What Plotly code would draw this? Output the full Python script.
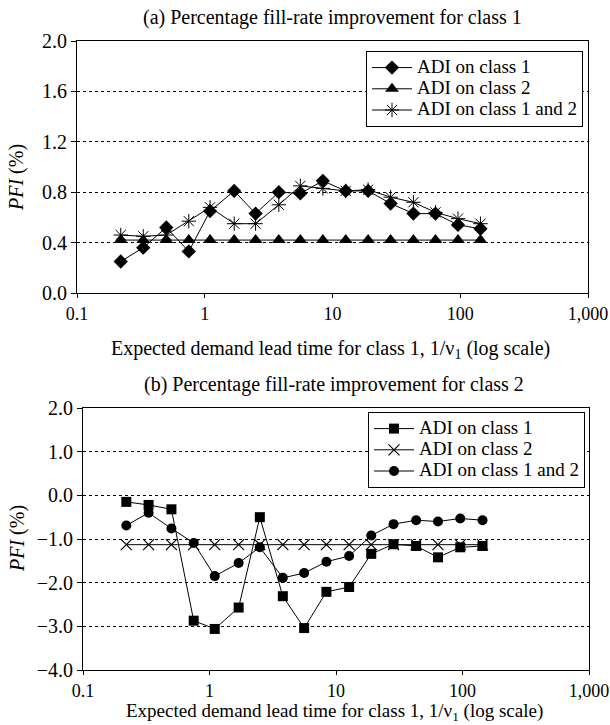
import plotly.graph_objects as go

# Data
lead_time = [0.22, 0.33, 0.5, 0.75, 1.1, 1.7, 2.5, 3.8, 5.6, 8.4, 12.7, 19, 28.5, 43, 64, 96, 144]

a_class1 = [0.25, 0.36, 0.52, 0.33, 0.65, 0.81, 0.63, 0.80, 0.79, 0.89, 0.81, 0.81, 0.71, 0.63, 0.63, 0.54, 0.51]
a_class2 = [0.42] * 17
a_class12 = [0.46, 0.45, 0.46, 0.57, 0.68, 0.55, 0.55, 0.70, 0.85, 0.83, 0.81, 0.82, 0.76, 0.72, 0.64, 0.59, 0.55]

b_class1 = [-0.15, -0.22, -0.32, -2.87, -3.06, -2.57, -0.50, -2.31, -3.04, -2.21, -2.10, -1.34, -1.12, -1.16, -1.42, -1.19, -1.16]
b_class2 = [-1.13] * 17
b_class12 = [-0.69, -0.40, -0.76, -1.09, -1.85, -1.55, -1.19, -1.89, -1.78, -1.52, -1.39, -0.92, -0.66, -0.57, -0.60, -0.53, -0.57]

names = ["ADI on class 1", "ADI on class 2", "ADI on class 1 and 2"]
x_tickvals = [0.1, 1, 10, 100, 1000]
x_ticktext = ["0.1", "1", "10", "100", "1,000"]
top_yticks = [0.0, 0.4, 0.8, 1.2, 1.6, 2.0]
bot_yticks = [-4.0, -3.0, -2.0, -1.0, 0.0, 1.0, 2.0]

FONT = "Liberation Serif"
W, H = 610, 725

def px(x):
    return x / W

def py(y):
    return 1 - y / H

def legname(s):
    return '<span style="font-size:19px">' + s + '</span>'

fig = go.Figure()

top_specs = [
    (a_class1, dict(symbol="diamond", size=11, color="black")),
    (a_class2, dict(symbol="triangle-up", size=12, color="black")),
    (a_class12, dict(symbol="asterisk-open", size=12, color="black", line=dict(width=1, color="black"))),
]
for (vals, mk), nm in zip(top_specs, names):
    fig.add_trace(go.Scatter(x=lead_time, y=vals, name=legname(nm), mode="lines+markers",
                             line=dict(color="black", width=1), marker=mk,
                             xaxis="x", yaxis="y", legend="legend"))

bot_specs = [
    (b_class1, dict(symbol="square", size=10, color="black")),
    (b_class2, dict(symbol="x-thin-open", size=11, color="black", line=dict(width=1.2, color="black"))),
    (b_class12, dict(symbol="circle", size=10, color="black")),
]
for (vals, mk), nm in zip(bot_specs, names):
    fig.add_trace(go.Scatter(x=lead_time, y=vals, name=legname(nm), mode="lines+markers",
                             line=dict(color="black", width=1), marker=mk,
                             xaxis="x2", yaxis="y2", legend="legend2"))

xcommon = dict(type="log", range=[-1, 3], tickvals=x_tickvals, ticktext=x_ticktext,
               showgrid=False, showline=True, linecolor="black", linewidth=1, mirror=True,
               ticks="outside", ticklen=4, tickcolor="black", zeroline=False, automargin=False,
               ticklabeloverflow="allow",
               tickfont=dict(family=FONT, size=18, color="black"))
ycommon = dict(showline=True, linecolor="black", linewidth=1, mirror=True,
               ticks="outside", ticklen=5, tickcolor="black", zeroline=False, automargin=False,
               showgrid=True, gridcolor="black", gridwidth=1, griddash="dot",
               tickformat=".1f", ticklabeloverflow="allow",
               tickfont=dict(family=FONT, size=20, color="black"))

legcommon = dict(bordercolor="black", borderwidth=1, bgcolor="white",
                 font=dict(family=FONT, size=14, color="black"),
                 xanchor="left", yanchor="top", itemwidth=40, tracegroupgap=0)

fig.update_layout(
    width=W, height=H,
    margin=dict(l=0, r=0, t=0, b=0, autoexpand=False),
    paper_bgcolor="white", plot_bgcolor="white",
    font=dict(family=FONT, size=20, color="black"),
    xaxis=dict(xcommon, domain=[px(77), px(588)], anchor="y"),
    yaxis=dict(ycommon, domain=[py(293), py(41)], range=[0, 2.0], tickvals=top_yticks, anchor="x"),
    xaxis2=dict(xcommon, domain=[px(83), px(589)], anchor="y2"),
    yaxis2=dict(ycommon, domain=[py(670), py(408)], range=[-4.0, 2.0], tickvals=bot_yticks, anchor="x2"),
    legend=dict(legcommon, x=px(366), y=py(51)),
    legend2=dict(legcommon, x=px(368), y=py(412)),
    showlegend=True,
)

annots = [
    dict(text="(a) Percentage fill-rate improvement for class 1", x=px(332), y=py(17), size=20),
    dict(text="(b) Percentage fill-rate improvement for class 2", x=px(334), y=py(385), size=20),
    dict(text="Expected demand lead time for class 1, 1/ν<sub>1</sub> (log scale)", x=px(330), y=py(349), size=20),
    dict(text="Expected demand lead time for class 1, 1/ν<sub>1</sub> (log scale)", x=px(334), y=py(712), size=19),
    dict(text="<i>PFI</i> (%)", x=px(17), y=py(178), textangle=-90, size=20),
    dict(text="<i>PFI</i> (%)", x=px(17), y=py(539), textangle=-90, size=20),
]
for a in annots:
    sz = a.pop("size")
    fig.add_annotation(xref="paper", yref="paper", showarrow=False,
                       xanchor="center", yanchor="middle", borderpad=0,
                       font=dict(family=FONT, size=sz, color="black"), **a)

fig.write_html("out.html")
